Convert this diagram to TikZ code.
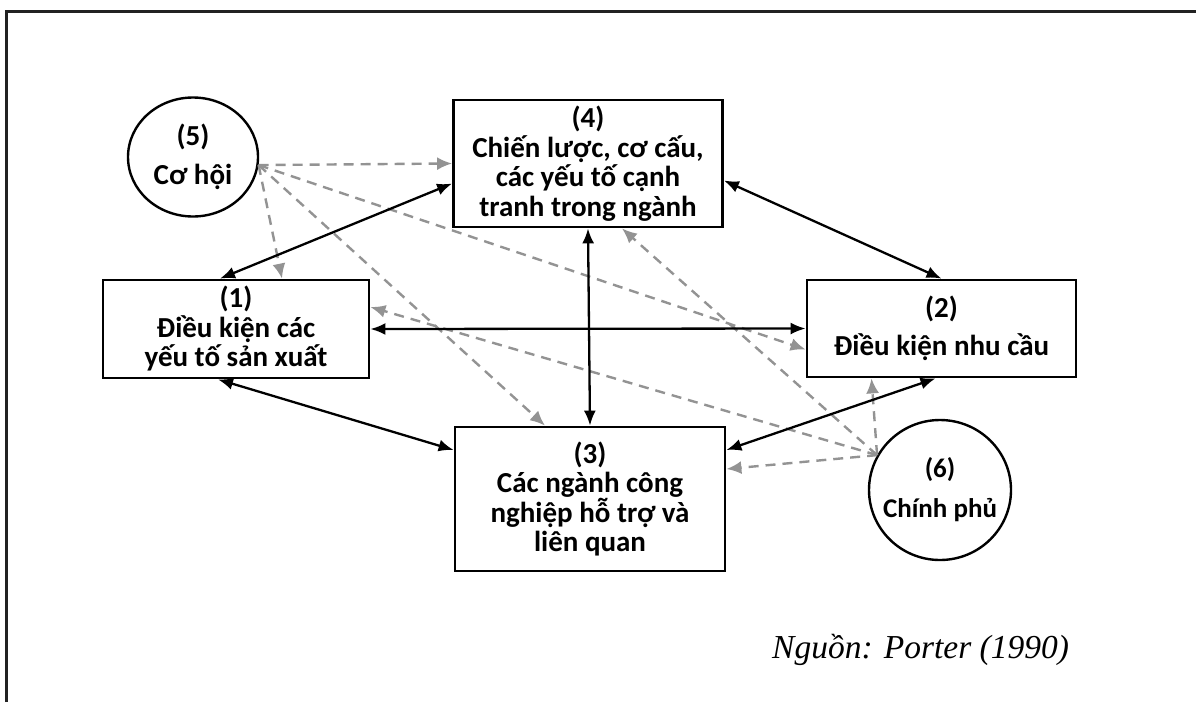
\documentclass[tikz,border=0pt]{standalone}
\usepackage{fontspec}
\setmainfont{Carlito}
\newfontfamily\srcfont{Liberation Serif}
\usetikzlibrary{arrows.meta,shapes.geometric}
\definecolor{DashGray}{HTML}{939393}
\definecolor{FrameBlack}{HTML}{222222}
\begin{document}
\begin{tikzpicture}[x=1pt,y=-1pt,
factor/.style={draw,line width=2.8pt,align=center,inner sep=0pt,font=\bfseries\fontsize{29}{29.5}\selectfont},
chance/.style={draw,ellipse,line width=2.4pt,align=center,inner sep=-20pt,font=\bfseries\fontsize{29}{29.5}\selectfont},
link/.style={{Latex[length=15pt,width=12pt]}-{Latex[length=15pt,width=12pt]},line width=2.3pt},
push/.style={-{Latex[length=15pt,width=13pt]},DashGray,line width=2.4pt,dash pattern=on 10pt off 7pt}
]
\useasboundingbox (0,0) rectangle (1196,702);
\draw[line width=3pt,FrameBlack] (6,702) -- (6,11) -- (1196,11);
\node[factor,minimum width=269pt,minimum height=127pt] (b4) at (588,163.5) {(4)\\Chiến lược, cơ cấu,\\các yếu tố cạnh\\tranh trong ngành};
\node[factor,minimum width=266pt,minimum height=98pt] (b1) at (236,329) {(1)\\Điều kiện các\\yếu tố sản xuất};
\node[factor,minimum width=269pt,minimum height=97pt] (b2) at (941.5,328.5) {(2)\\[8pt]Điều kiện nhu cầu};
\node[factor,minimum width=270pt,minimum height=144pt] (b3) at (590,499) {(3)\\Các ngành công\\nghiệp hỗ trợ và\\liên quan};
\node[chance,minimum width=130pt,minimum height=119pt] (c5) at (193,157) {(5)\\[9pt]Cơ hội};
\node[chance,minimum width=142pt,minimum height=140pt,font=\bfseries\fontsize{27}{28}\selectfont] (c6) at (940,490) {(6)\\[12pt]Chính phủ};
\node[font=\srcfont\itshape\fontsize{33.5}{36}\selectfont,anchor=west,inner sep=0pt] (src) at (772,650) {Nguồn: Porter (1990)};
% external influences
\draw[push] (c5.-7) -- (b4.west);
\draw[push] (c5.-7) -- ([xshift=46pt]b1.north);
\draw[push] (c5.-7) -- ([xshift=-45pt]b3.north);
\draw[push] (c5.-7) -- ([yshift=-21pt]b2.west);
\draw[push] (c6.151) -- ([xshift=-70pt]b2.south);
\draw[push] (c6.151) -- ([yshift=30pt]b3.east);
\draw[push] (c6.151) -- ([yshift=22pt]b1.east);
\draw[push] (c6.151) -- ([xshift=34pt]b4.south);
% diamond links
\draw[link] ([xshift=-16pt]b1.north) -- ([yshift=-20pt]b4.west);
\draw[link] ([yshift=-17pt]b4.east) -- (b2.north);
\draw[link] (b4.south) -- (b3.north);
\draw[link] (b1.east) -- (b2.west);
\draw[link] ([xshift=-18pt]b1.south) -- ([yshift=49pt]b3.west);
\draw[link] ([xshift=-6pt]b2.south) -- ([yshift=49pt]b3.east);
\end{tikzpicture}
\end{document}
